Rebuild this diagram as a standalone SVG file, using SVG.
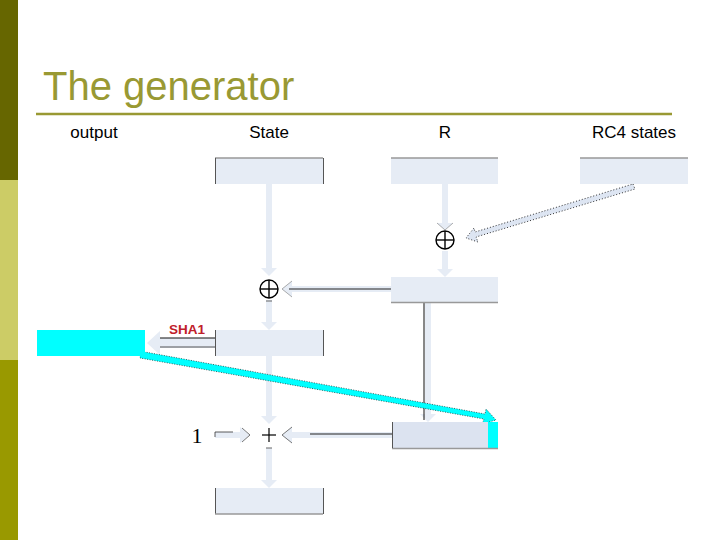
<svg xmlns="http://www.w3.org/2000/svg" width="720" height="540" viewBox="0 0 720 540">
<defs>
<style>
.lbl{font-family:"Liberation Sans",Arial,sans-serif;font-size:17px;fill:#000;text-anchor:middle}
.box{fill:#E6ECF5}
.edge{stroke:#555;stroke-width:1}
.top{stroke:#999;stroke-width:1.5}
.blk{fill:#E6ECF5;stroke:none}
.op{fill:none;stroke:#000;stroke-width:1.4}
</style>
</defs>
<rect width="720" height="540" fill="#fff"/>
<rect x="0" y="0" width="18" height="180" fill="#666600"/>
<rect x="0" y="180" width="18" height="180" fill="#CCCC66"/>
<rect x="0" y="360" width="18" height="180" fill="#999900"/>
<text x="43" y="100" font-family="'Liberation Sans',Arial,sans-serif" font-size="40" fill="#999933">The generator</text>
<line x1="36" y1="114" x2="672" y2="114" stroke="#999933" stroke-width="2.5"/>
<text class="lbl" x="94" y="138">output</text>
<text class="lbl" x="269" y="138">State</text>
<text class="lbl" x="445" y="138">R</text>
<text class="lbl" x="634" y="138">RC4 states</text>

<g id="connectors">
<polygon class="blk" points="266,184 272,184 272,268 277,268 269,276 261,268 266,268"/>
<polygon class="blk" points="266,300 272,300 272,322 277,322 269,330 261,322 266,322"/>
<line x1="266" y1="301" x2="272" y2="301" stroke="#666" stroke-width="1"/>
<polygon class="blk" points="266,355 272,355 272,416 277,416 269,424 261,416 266,416"/>
<polygon class="blk" points="266,448 272,448 272,480 277,480 269,488 261,480 266,480"/>
<line x1="266" y1="448" x2="272" y2="448" stroke="#666" stroke-width="1"/>
<polygon class="blk" points="442,184 448,184 448,223 453,223 445,230 437,223 442,223"/>
<polyline points="437,223 445,230 453,223" fill="none" stroke="#777" stroke-width="0.6"/>
<polygon class="blk" points="442,251 448,251 448,269 453,269 445,277 437,269 442,269"/>
<polygon points="633,184 635,189 476,237 478,242 466,238 474,228 475,232" fill="#DDE5F2" stroke="#000" stroke-width="0.8" stroke-dasharray="1,2"/>
<polygon class="blk" points="391,286 391,292 292,292 292,297 282,289 292,281 292,286"/>
<line x1="289" y1="289" x2="391" y2="289" stroke="#222" stroke-width="1"/>
<polyline points="292,281 282,289 292,297" fill="none" stroke="#777" stroke-width="0.6"/>
<polygon class="blk" points="425,302 431,302 431,414 436,414 428,422 420,414 425,414"/>
<line x1="424" y1="302" x2="424" y2="420" stroke="#111" stroke-width="1"/>
<polygon class="blk" points="215,338 215,348 160,348 160,355 147,343 160,331 160,338"/>
<line x1="160" y1="338" x2="215" y2="338" stroke="#111" stroke-width="1"/>
<line x1="160" y1="347" x2="215" y2="347" stroke="#555" stroke-width="1"/>
<polygon class="blk" points="392,432 392,438 292,438 292,443 282,435 292,427 292,432"/>
<line x1="310" y1="434" x2="392" y2="434" stroke="#222" stroke-width="1"/>
<polyline points="292,427 282,435 292,443" fill="none" stroke="#555" stroke-width="0.8"/>
<polygon class="blk" points="215,432 240,432 240,427 250,435 240,443 240,438 215,438"/>
<polyline points="215,437 215,432 233,432" fill="none" stroke="#333" stroke-width="0.8"/>
<polyline points="242,428 250,435 242,442" fill="none" stroke="#555" stroke-width="0.8"/>
<polygon points="140,355 145,352 485,414 486,409 496,420 482,424 484,419 140,358" fill="#00FFFF" stroke="#000" stroke-width="0.6" stroke-dasharray="1,1.5"/>
</g>

<g id="state">
<rect class="box" x="215" y="158" width="108" height="26"/>
<line class="top" x1="215" y1="158" x2="323" y2="158"/>
<line class="edge" x1="215.5" y1="158" x2="215.5" y2="184"/>
<line class="edge" x1="323.5" y1="158" x2="323.5" y2="184"/>
</g>
<g id="r">
<rect class="box" x="391" y="158" width="107" height="26"/>
<line class="top" x1="391" y1="158" x2="498" y2="158"/>
</g>
<g id="rc4">
<rect class="box" x="580" y="158" width="108" height="26"/>
<line class="top" x1="580" y1="158" x2="688" y2="158"/>
</g>
<g id="xor1">
<circle class="op" cx="445" cy="240" r="9"/>
<line class="op" x1="436" y1="240" x2="454" y2="240"/>
<line class="op" x1="445" y1="231" x2="445" y2="249"/>
</g>
<g id="r2">
<rect class="box" x="391" y="277" width="107" height="26"/>
<line class="top" x1="391" y1="302.5" x2="498" y2="302.5"/>
</g>
<g id="xor2">
<circle class="op" cx="269" cy="289" r="9"/>
<line class="op" x1="260" y1="289" x2="278" y2="289"/>
<line class="op" x1="269" y1="280" x2="269" y2="298"/>
</g>
<g id="sha">
<rect class="box" x="215" y="330" width="108" height="26"/>
<line class="edge" x1="215.5" y1="330" x2="215.5" y2="356"/>
<line class="edge" x1="323.5" y1="330" x2="323.5" y2="356"/>
<text x="169" y="334" font-family="'Liberation Sans',Arial,sans-serif" font-size="13.5" font-weight="bold" fill="#C0202A">SHA1</text>
</g>
<g id="output">
<rect x="37" y="330" width="108" height="26" fill="#00FFFF"/>
</g>
<g id="plus">
<line x1="262" y1="435" x2="276" y2="435" stroke="#000" stroke-width="1.2"/>
<line x1="269" y1="428" x2="269" y2="442" stroke="#000" stroke-width="1.2"/>
</g>
<g id="one">
<text x="197" y="443" font-family="'Liberation Serif','Times New Roman',serif" font-size="22" fill="#000" text-anchor="middle">1</text>
</g>
<g id="counter">
<rect x="392" y="422" width="106" height="26" fill="#DCE3F0"/>
<rect x="488" y="422" width="10" height="26" fill="#00FFFF"/>
<line class="top" x1="392" y1="448.5" x2="498" y2="448.5"/>
<line class="edge" x1="392.5" y1="422" x2="392.5" y2="448"/>
</g>
<g id="newstate">
<rect class="box" x="215" y="488" width="108" height="26"/>
<line class="edge" x1="215.5" y1="488" x2="215.5" y2="514"/>
<line class="edge" x1="323.5" y1="488" x2="323.5" y2="514"/>
<line class="top" x1="215" y1="514" x2="323" y2="514"/>
</g>
</svg>
